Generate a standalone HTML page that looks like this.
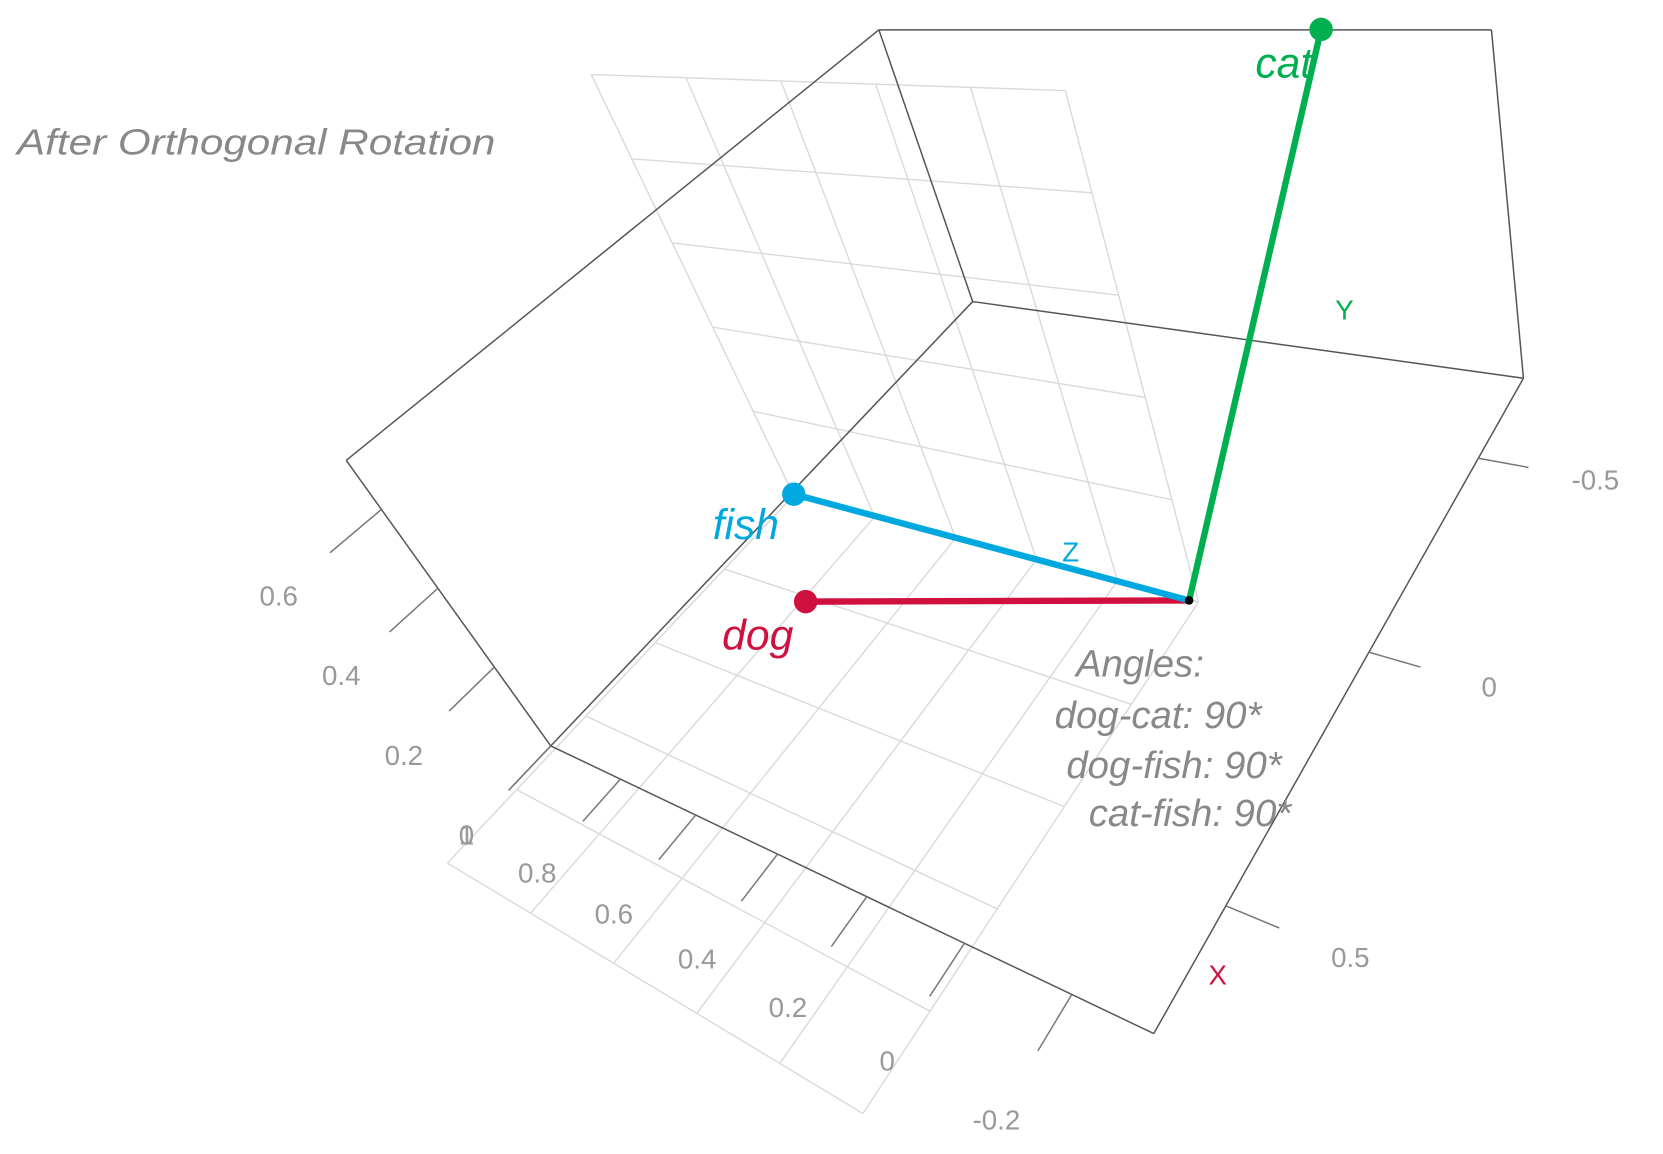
<!DOCTYPE html>
<html><head><meta charset="utf-8"><style>
html,body{margin:0;padding:0;background:#fff;}
svg{display:block;}
text{font-family:"Liberation Sans",sans-serif;}
</style></head><body>
<svg id="chart" width="1663" height="1154" viewBox="0 0 1561 1083" preserveAspectRatio="none" xmlns="http://www.w3.org/2000/svg">
<g id="grid"></g>
<g id="box"></g>
<g id="ticks"></g>
<g id="vecs"></g>
<text x="16" y="145" font-size="34" font-style="italic" fill="#888" textLength="449" lengthAdjust="spacingAndGlyphs">After Orthogonal Rotation</text>
<text x="1143" y="924" font-size="26" fill="#d0103f" text-anchor="middle">X</text>
<text x="1262" y="300" font-size="26" fill="#00b050" text-anchor="middle">Y</text>
<text x="1005" y="527" font-size="26" fill="#00a8e0" text-anchor="middle">Z</text>
<g font-size="36" font-style="italic" fill="#888" text-anchor="middle">
<text x="1070" y="635">Angles:</text>
<text x="1087" y="683">dog-cat: 90*</text>
<text x="1102" y="730">dog-fish: 90*</text>
<text x="1117" y="775">cat-fish: 90*</text>
</g>
</svg>
<script>
const vectorNames = ["dog", "cat", "fish"];
const vecX = [0.26, -0.79, 0.02];
const vecY = [0, 0.70, 0];
const vecZ = [0.74, -0.02, 0.99];
const xTicks = [-0.5, 0, 0.5];
const xTickLabels = ["-0.5", "0", "0.5"];
const yTicks = [0, 0.2, 0.4, 0.6];
const yTickLabels = ["0", "0.2", "0.4", "0.6"];
const zTicks = [1, 0.8, 0.6, 0.4, 0.2, 0, -0.2];
const zTickLabels = ["1", "0.8", "0.6", "0.4", "0.2", "0", "-0.2"];

const NS = "http://www.w3.org/2000/svg";
const colors = {dog:"#d0103f", cat:"#00b050", fish:"#00a8e0"};
const C = {
  b00:[913,283], b10:[1430,355], b01:[517,700], b11:[1083,970],
  t00:[825,28], t10:[1400,28], t01:[325,432], t11:[949,630]
};
function bil(p00,p10,p01,p11,v,w){
  return [0,1].map(k=>(1-v)*(1-w)*p00[k]+v*(1-w)*p10[k]+(1-v)*w*p01[k]+v*w*p11[k]);
}
function proj(v,w,u){
  const b=bil(C.b00,C.b10,C.b01,C.b11,v,w), t=bil(C.t00,C.t10,C.t01,C.t11,v,w);
  return [b[0]*(1-u)+t[0]*u, b[1]*(1-u)+t[1]*u];
}
function wOfX(x){const s=x+0.5;return 0.122+0.5225*s/(1-0.235*s);}
function vOfZ(z){const t=1-z;return 0.555*t/(1-0.191*t);}
function uOfY(y){return y*1.38;}
function P(x,y,z){return proj(vOfZ(z),wOfX(x),uOfY(y));}
function mk(tag,attrs,parent){const e=document.createElementNS(NS,tag);for(const k in attrs)e.setAttribute(k,attrs[k]);parent.appendChild(e);return e;}

const grid=document.getElementById('grid');
function lerp(a,b,t){return [a[0]+(b[0]-a[0])*t,a[1]+(b[1]-a[1])*t];}
function lattice(a,b,c,d,n,m){
  for(let i=0;i<=n;i++){const p=lerp(a,d,i/n),q=lerp(b,c,i/n);
    const l=mk('line',{x1:p[0],y1:p[1],x2:q[0],y2:q[1],stroke:"#d9d9d9","stroke-width":1.3},grid);
    
    }
  for(let j=0;j<=m;j++){const p=lerp(a,b,j/m),q=lerp(d,c,j/m);
    const l=mk('line',{x1:p[0],y1:p[1],x2:q[0],y2:q[1],stroke:"#d9d9d9","stroke-width":1.3},grid);
    
    }
}
lattice([555,70],[1000,85],[1125,565],[745,465],5,5);
lattice([745,465],[1125,565],[810,1045],[420,810],5,5);

const box=document.getElementById('box');
const edges=[["b00","b10"],["b00","t00"],["b00","b01"],["t00","t10"],["t10","b10"],["t00","t01"],["t01","b01"],["b01","b11"],["b11","b10"]];
edges.forEach(e=>{const a=C[e[0]],b=C[e[1]];
  const l=mk('line',{x1:a[0],y1:a[1],x2:b[0],y2:b[1],stroke:"#555","stroke-width":1.4},box);
  
  });

const tg=document.getElementById('ticks');
function tick(p,q,lab,txt){
  const l=mk('line',{x1:p[0],y1:p[1],x2:q[0],y2:q[1],stroke:"#777","stroke-width":1.4},tg);
  
  
  const t=mk('text',{x:lab[0],y:lab[1]+9,"font-size":26,fill:"#999","text-anchor":"middle"},tg);
  t.textContent=txt;
  
  
}
xTicks.forEach((x,i)=>{const w=wOfX(x);tick(proj(1,w,0),proj(1.09,w,0),proj(1.21,w,0),xTickLabels[i]);});
yTicks.forEach((y,i)=>{const u=uOfY(y);tick(proj(0,1,u),proj(0,1.1,u),proj(0,1.2,u),yTickLabels[i]);});
zTicks.forEach((z,i)=>{const v=vOfZ(z);tick(proj(v,1,0),proj(v,1.09,0),proj(v,1.2,0),zTickLabels[i]);});

const vg=document.getElementById('vecs');
const O=P(0,0,0);
const labelOff={dog:[-45,45],cat:[-35,45],fish:[-45,42]};
vectorNames.forEach((n,i)=>{
  const e=P(vecX[i],vecY[i],vecZ[i]);
  const l=mk('line',{x1:O[0],y1:O[1],x2:e[0],y2:e[1],stroke:colors[n],"stroke-width":6},vg);
  
  
  const c=mk('circle',{cx:e[0],cy:e[1],r:11,fill:colors[n]},vg);
  
  
  const t=mk('text',{x:e[0]+labelOff[n][0],y:e[1]+labelOff[n][1],"font-size":40,"font-style":"italic",fill:colors[n],"text-anchor":"middle"},vg);
  t.textContent=n;
  
  
});
const o=mk('circle',{cx:O[0],cy:O[1],r:4,fill:"#000"},vg);


</script>
</body></html>
